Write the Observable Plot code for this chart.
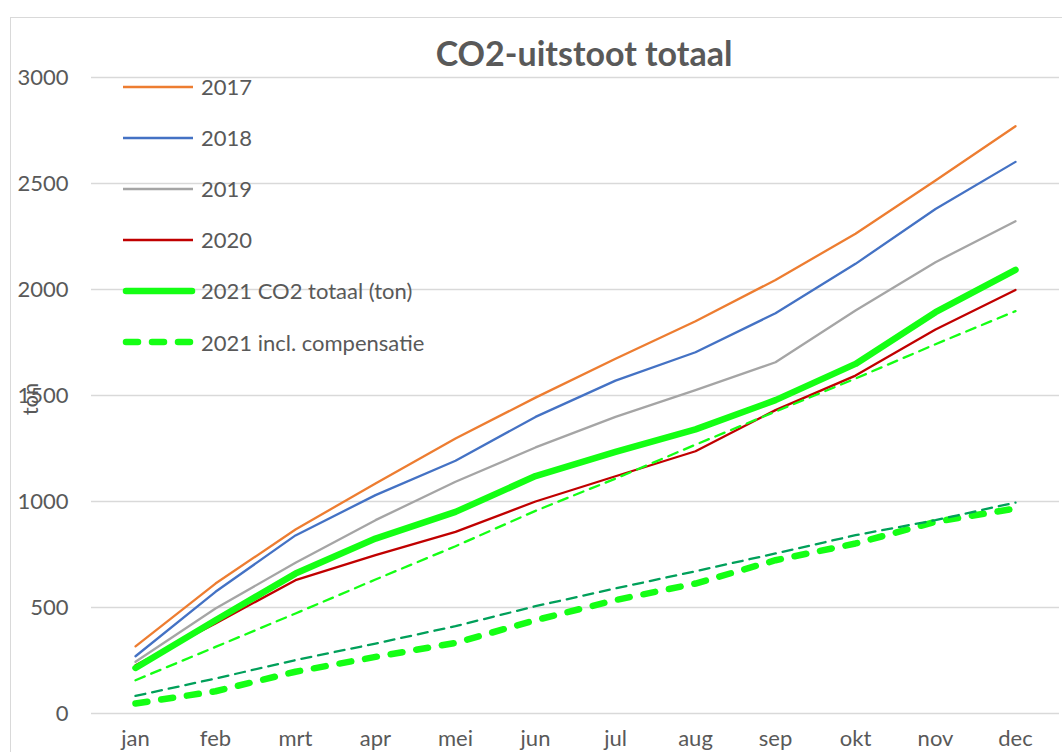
<!DOCTYPE html>
<html>
<head>
<meta charset="utf-8">
<script src="https://cdn.jsdelivr.net/npm/d3@7"></script>
<script src="https://cdn.jsdelivr.net/npm/@observablehq/plot@0.6"></script>
<style>
  html, body { margin: 0; padding: 0; background: #fff; overflow: hidden; width: 1062px; height: 752px; }
  #wrap { position: relative; width: 1062px; height: 752px; overflow: hidden; font-family: Lato, "Open Sans", sans-serif; color: #595959; }
  #frame { position: absolute; left: 10px; top: 17px; width: 1200px; height: 900px; border: 1.5px solid #D9D9D9; box-sizing: border-box; }
  #chart { position: absolute; left: 0; top: 0; }
  #title { position: absolute; left: 584px; top: 36px; transform: translateX(-50%); font-weight: bold; font-size: 34px; line-height: 34px; white-space: nowrap; color: #595959; }
  #ylabel { position: absolute; left: 30px; top: 399px; transform: translate(-50%, -50%) rotate(-90deg); font-size: 22px; line-height: 22px; white-space: nowrap; }
  #legend { position: absolute; left: 123px; top: 61px; }
  .row { display: flex; align-items: center; height: 51.1px; font-size: 22px; white-space: nowrap; }
  .row svg { margin-right: 6px; overflow: visible; }
</style>
</head>
<body>
<div id="wrap">
  <div id="frame"></div>
  <div id="chart"></div>
  <div id="title"></div>
  <div id="ylabel"></div>
  <div id="legend"></div>
</div>
<script>
// ---- data ----
const months = ["jan", "feb", "mrt", "apr", "mei", "jun", "jul", "aug", "sep", "okt", "nov", "dec"];
const yTicks = [0, 500, 1000, 1500, 2000, 2500, 3000];
const titleText = "CO2-uitstoot totaal";
const yLabel = "ton";

const v2017 = [317, 613, 868, 1085, 1297, 1490, 1673, 1850, 2045, 2263, 2514, 2770];
const v2018 = [270, 574, 840, 1030, 1192, 1399, 1570, 1704, 1888, 2121, 2380, 2602];
const v2019 = [244, 495, 711, 912, 1093, 1255, 1399, 1525, 1657, 1901, 2129, 2322];
const v2020 = [228, 425, 629, 747, 857, 1000, 1119, 1237, 1431, 1594, 1811, 1998];
const v2021 = [215, 440, 660, 825, 951, 1120, 1234, 1340, 1478, 1649, 1893, 2093];
const v2021comp = [47, 105, 197, 267, 333, 440, 535, 613, 723, 802, 904, 967];
// two unlabeled thin dashed reference lines
const refLineA = [157, 314, 472, 632, 789, 956, 1108, 1268, 1424, 1580, 1742, 1898];
const refLineB = [83, 165, 252, 330, 412, 506, 590, 671, 755, 841, 912, 995];

const seriesNames = ["2017", "2018", "2019", "2020", "2021 CO2 totaal (ton)", "2021 incl. compensatie"];

// ---- styles ----
const styles = {
  "2017": {stroke: "#ED7D31", strokeWidth: 2.3},
  "2018": {stroke: "#4472C4", strokeWidth: 2.3},
  "2019": {stroke: "#A5A5A5", strokeWidth: 2.3},
  "2020": {stroke: "#C00000", strokeWidth: 2.3},
  "2021 CO2 totaal (ton)": {stroke: "#14FF14", strokeWidth: 6.5, strokeLinecap: "round"},
  "2021 incl. compensatie": {stroke: "#14FF14", strokeWidth: 6.5, strokeLinecap: "round", strokeDasharray: "12,14"},
  "refA": {stroke: "#14FF14", strokeWidth: 2.3, strokeDasharray: "10,7"},
  "refB": {stroke: "#00A05A", strokeWidth: 2.3, strokeDasharray: "10,7"}
};

const seriesList = [
  {name: "2017", values: v2017},
  {name: "2018", values: v2018},
  {name: "2019", values: v2019},
  {name: "2020", values: v2020},
  {name: "2021 CO2 totaal (ton)", values: v2021},
  {name: "2021 incl. compensatie", values: v2021comp},
  {name: "refA", values: refLineA},
  {name: "refB", values: refLineB}
];

const rows = seriesList.map(s => s.values.map((v, i) => ({month: months[i], value: v, series: s.name})));

const lineMarks = rows.map((r, k) => Plot.line(r, {
  x: "month", y: "value", strokeLinejoin: "round", ...styles[seriesList[k].name]
}));

const plot = Plot.plot({
  width: 1062,
  height: 752,
  marginLeft: 91,
  marginRight: 3,
  marginTop: 77,
  marginBottom: 39,
  style: {fontFamily: "Lato, 'Open Sans', sans-serif", fontSize: "22px", color: "#595959", background: "transparent", overflow: "visible"},
  x: {type: "point", domain: months, padding: 0.5, label: null},
  y: {domain: [0, 3000], label: null},
  marks: [
    Plot.gridY(yTicks, {stroke: "#D9D9D9", strokeOpacity: 1, strokeWidth: 1.5}),
    Plot.axisX({tickSize: 0, tickPadding: 17, fontSize: 22, label: null}),
    Plot.axisY(yTicks, {tickSize: 0, tickPadding: 23, fontSize: 22, label: null, tickFormat: d => String(d)}),
    ...lineMarks
  ]
});
document.getElementById("chart").appendChild(plot);

document.getElementById("title").textContent = titleText;
document.getElementById("ylabel").textContent = yLabel;

// legend
const legend = document.getElementById("legend");
seriesNames.forEach(name => {
  const st = styles[name];
  const row = document.createElement("div");
  row.className = "row";
  const svg = d3.create("svg").attr("width", 72).attr("height", 12);
  const thick = st.strokeWidth > 4;
  svg.append("line")
    .attr("x1", thick ? 3 : 0).attr("x2", thick ? 69 : 70).attr("y1", 6).attr("y2", 6)
    .attr("stroke", st.stroke).attr("stroke-width", st.strokeWidth)
    .attr("stroke-linecap", st.strokeLinecap || "butt")
    .attr("stroke-dasharray", st.strokeDasharray || null);
  row.appendChild(svg.node());
  const span = document.createElement("span");
  span.textContent = name;
  row.appendChild(span);
  legend.appendChild(row);
});
</script>
</body>
</html>
